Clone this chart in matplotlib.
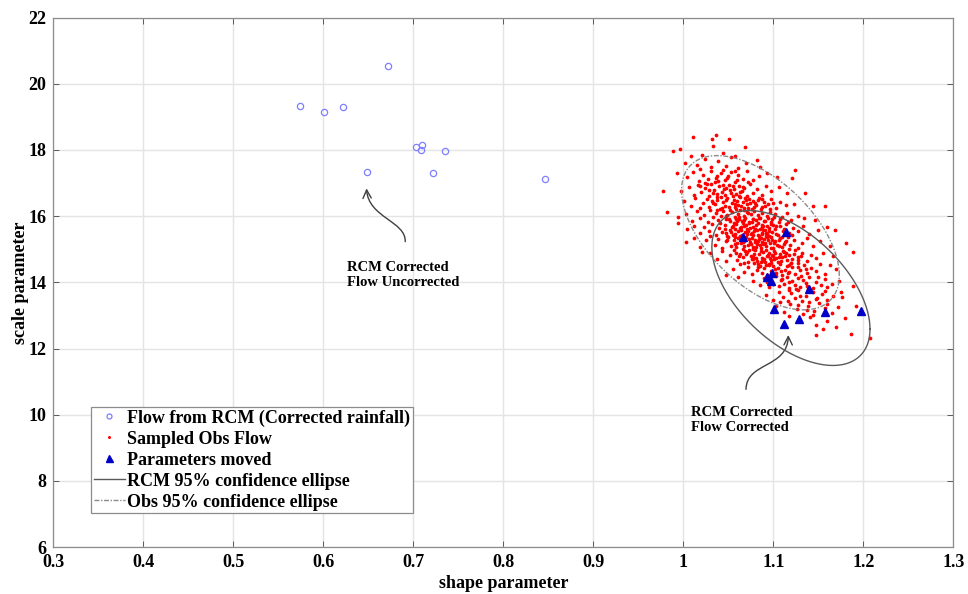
import numpy as np
import matplotlib
matplotlib.use("Agg")
import matplotlib.pyplot as plt
from matplotlib.path import Path
from matplotlib.patches import FancyArrowPatch

plt.rcParams["font.family"] = ["Liberation Serif", "DejaVu Serif"]
plt.rcParams["font.weight"] = "bold"

# flow parameters from RCM with corrected rainfall (shape, scale)
rcm_shape = [0.574, 0.601, 0.622, 0.672, 0.703, 0.710, 0.709, 0.735, 0.649, 0.722, 0.846]
rcm_scale = [19.33, 19.15, 19.30, 20.54, 18.08, 18.16, 17.99, 17.97, 17.34, 17.31, 17.11]

# parameters moved (corrected flow)
moved_shape = [1.066, 1.114, 1.093, 1.099, 1.097, 1.140, 1.101, 1.112, 1.129, 1.158, 1.197]
moved_scale = [15.38, 15.53, 14.15, 14.27, 14.03, 13.79, 13.19, 12.75, 12.90, 13.11, 13.14]

obs_flow = [
  (1.011,18.40),(1.036,18.46),(1.032,18.33),(1.051,18.34),
  (0.989,17.97),(0.996,18.03),(1.069,18.10),(1.021,17.86),(1.044,17.92),(1.008,17.83),(1.058,17.81),(1.033,18.12),
  (1.082,17.71),(1.085,17.50),(1.002,17.62),(1.015,17.55),(1.024,17.74),(1.031,17.48),(1.039,17.66),(1.047,17.52),
  (1.053,17.78),(1.061,17.45),(1.070,17.60),(1.019,17.42),(1.044,17.41),(1.124,17.40),
  (0.993,17.30),(1.004,17.18),(1.011,17.35),(1.017,17.06),(1.022,17.24),(1.027,17.12),(1.031,17.37),(1.035,17.02),
  (1.038,17.21),(1.042,17.30),(1.046,17.09),(1.049,17.16),(1.053,17.33),(1.057,17.04),(1.061,17.25),(1.066,17.13),
  (1.071,17.36),(1.077,17.08),(1.084,17.22),(1.093,17.31),(1.104,17.19),(1.121,17.14),(1.024,17.01),(1.058,17.38),
  (1.026,16.98),(1.033,16.70),(1.039,17.05),(1.045,16.82),(1.050,17.20),(1.055,16.92),(1.060,17.10),(1.066,16.88),
  (1.072,17.02),(1.036,17.15),(1.044,16.95),(1.029,16.80),(1.063,16.72),(1.052,16.78),(1.019,16.90),
  (0.997,16.77),(1.006,16.88),(1.012,16.65),(1.016,16.93),(1.020,16.72),(1.024,16.84),(1.028,16.61),(1.031,16.97),
  (1.034,16.79),(1.037,16.68),(1.040,16.90),(1.043,16.74),(1.046,16.63),(1.048,16.86),(1.051,16.95),(1.053,16.70),
  (1.056,16.81),(1.059,16.66),(1.062,16.92),(1.065,16.75),(1.068,16.85),(1.071,16.62),(1.074,16.98),(1.078,16.71),
  (1.082,16.83),(1.087,16.64),(1.092,16.91),(1.098,16.76),(1.106,16.87),(1.115,16.69),(1.135,16.71),(1.062,16.60),
  (0.977,16.76),
  (1.001,16.45),(1.008,16.32),(1.013,16.56),(1.018,16.24),(1.022,16.41),(1.026,16.52),(1.029,16.29),(1.032,16.47),
  (1.035,16.36),(1.038,16.58),(1.041,16.22),(1.044,16.43),(1.046,16.31),(1.049,16.54),(1.051,16.27),(1.054,16.39),
  (1.056,16.49),(1.059,16.21),(1.061,16.35),(1.063,16.57),(1.066,16.44),(1.068,16.26),(1.071,16.38),(1.073,16.51),
  (1.076,16.23),(1.078,16.46),(1.081,16.33),(1.084,16.55),(1.087,16.28),(1.090,16.42),(1.094,16.36),(1.098,16.53),
  (1.103,16.25),(1.108,16.44),(1.114,16.34),(1.123,16.36),(1.144,16.31),(1.158,16.31),(1.042,16.59),(1.057,16.28),
  (1.070,16.48),(1.086,16.21),
  (1.033,16.40),(1.047,16.50),(1.052,16.18),(1.060,16.45),(1.064,16.30),(1.069,16.56),(1.074,16.41),(1.079,16.27),
  (1.083,16.48),(1.091,16.31),(1.096,16.22),(1.043,16.26),(1.055,16.60),(1.067,16.20),(1.080,16.39),(1.088,16.52),
  (1.100,16.40),(1.058,16.36),(1.072,16.25),(1.037,16.49),
  (0.982,16.12),(0.994,15.98),(1.003,16.08),(1.010,15.86),(1.015,16.15),(1.019,15.94),(1.023,16.04),(1.027,15.83),
  (1.030,16.18),(1.033,15.97),(1.036,16.09),(1.039,15.88),(1.042,16.01),(1.044,16.16),(1.047,15.92),(1.049,16.05),
  (1.052,15.84),(1.054,16.12),(1.057,15.99),(1.059,15.90),(1.061,16.07),(1.063,16.19),(1.065,15.86),(1.067,16.02),
  (1.069,15.95),(1.071,16.14),(1.073,15.81),(1.075,16.06),(1.077,15.93),(1.079,16.17),(1.081,15.88),(1.083,16.03),
  (1.085,15.96),(1.088,16.11),(1.090,15.85),(1.093,16.00),(1.096,16.13),(1.099,15.91),(1.102,16.06),(1.106,15.83),
  (1.110,15.98),(1.115,16.10),(1.120,15.89),(1.127,16.02),(1.134,15.94),(1.146,15.87),(1.056,15.80),(1.038,16.20),
  (1.072,16.09),(1.094,15.94),(1.062,15.99),(1.048,16.00),
  (1.041,15.80),(1.046,15.60),(1.051,15.91),(1.055,15.70),(1.060,15.85),(1.064,15.66),(1.068,15.89),(1.072,15.55),
  (1.076,15.83),(1.080,15.62),(1.084,15.95),(1.087,15.73),(1.091,15.86),(1.095,15.56),(1.098,15.82),(1.103,15.69),
  (1.107,15.91),(1.112,15.62),(1.066,15.78),(1.078,15.90),(1.089,15.58),(1.053,15.52),(1.062,15.93),(1.074,15.64),
  (1.083,15.80),(1.101,15.97),(1.116,15.83),(1.093,15.70),
  (0.994,15.79),(1.004,15.62),(1.012,15.71),(1.018,15.48),(1.023,15.66),(1.028,15.55),(1.032,15.76),(1.036,15.44),
  (1.040,15.63),(1.043,15.52),(1.046,15.73),(1.049,15.41),(1.052,15.58),(1.054,15.68),(1.057,15.47),(1.059,15.77),
  (1.061,15.56),(1.063,15.64),(1.065,15.43),(1.067,15.71),(1.069,15.51),(1.071,15.60),(1.073,15.78),(1.075,15.45),
  (1.077,15.67),(1.079,15.54),(1.081,15.74),(1.083,15.42),(1.085,15.61),(1.087,15.50),(1.089,15.70),(1.091,15.57),
  (1.093,15.46),(1.095,15.65),(1.097,15.76),(1.099,15.53),(1.102,15.62),(1.105,15.44),(1.108,15.69),(1.111,15.56),
  (1.114,15.75),(1.118,15.48),(1.122,15.63),(1.127,15.54),(1.133,15.71),(1.140,15.47),(1.150,15.58),(1.169,15.57),
  (1.160,15.66),(1.064,15.58),(1.076,15.49),(1.088,15.66),(1.058,15.62),(1.070,15.72),(1.092,15.41),(1.100,15.74),
  (1.048,15.50),(1.082,15.57),
  (1.049,15.28),(1.055,15.44),(1.060,15.20),(1.063,15.40),(1.067,15.09),(1.071,15.47),(1.075,15.16),(1.078,15.42),
  (1.081,15.06),(1.084,15.31),(1.087,15.46),(1.089,15.15),(1.093,15.36),(1.097,15.03),(1.099,15.28),(1.103,15.45),
  (1.106,15.11),(1.110,15.38),(1.114,15.26),(1.121,15.44),(1.068,15.33),(1.080,15.22),(1.092,15.49),(1.101,15.18),
  (1.077,15.01),(1.058,15.36),(1.112,15.16),(1.086,15.35),
  (1.003,15.22),(1.012,15.35),(1.019,15.08),(1.025,15.27),(1.030,15.39),(1.035,15.14),(1.039,15.31),(1.043,15.03),
  (1.047,15.24),(1.050,15.37),(1.053,15.11),(1.056,15.29),(1.059,15.06),(1.061,15.33),(1.064,15.18),(1.066,15.02),
  (1.068,15.26),(1.070,15.38),(1.072,15.13),(1.074,15.21),(1.076,15.35),(1.078,15.07),(1.080,15.28),(1.082,15.16),
  (1.084,15.39),(1.086,15.04),(1.088,15.23),(1.090,15.32),(1.092,15.10),(1.094,15.27),(1.096,15.19),(1.098,15.36),
  (1.100,15.05),(1.102,15.25),(1.104,15.14),(1.107,15.33),(1.110,15.08),(1.113,15.22),(1.116,15.37),(1.119,15.12),
  (1.123,15.28),(1.127,15.03),(1.132,15.19),(1.137,15.34),(1.144,15.09),(1.152,15.24),(1.163,15.11),(1.181,15.18),
  (1.073,15.30),(1.085,15.12),(1.095,15.40),(1.066,15.22),(1.079,15.01),(1.091,15.18),(1.106,15.29),(1.058,15.15),
  (1.117,15.00),(1.083,15.25),
  (1.062,14.80),(1.067,14.60),(1.071,14.92),(1.076,14.70),(1.079,14.86),(1.083,14.55),(1.086,14.95),(1.090,14.72),
  (1.094,14.84),(1.098,14.58),(1.102,14.90),(1.106,14.77),(1.109,14.66),(1.114,14.88),(1.118,14.54),(1.123,14.85),
  (1.127,14.69),(1.088,14.64),(1.100,14.80),(1.111,14.96),(1.081,14.75),(1.095,14.52),(1.131,14.79),(1.073,14.98),
  (1.021,14.91),(1.030,14.88),(1.037,14.72),(1.043,14.95),(1.048,14.64),(1.052,14.83),(1.056,14.99),(1.060,14.69),
  (1.063,14.86),(1.066,14.77),(1.069,14.94),(1.072,14.62),(1.075,14.81),(1.077,14.71),(1.080,14.97),(1.082,14.66),
  (1.084,14.85),(1.087,14.74),(1.089,14.92),(1.091,14.61),(1.093,14.79),(1.095,14.89),(1.097,14.68),(1.099,14.84),
  (1.101,14.96),(1.103,14.73),(1.105,14.63),(1.107,14.87),(1.110,14.78),(1.112,14.93),(1.115,14.67),(1.118,14.82),
  (1.121,14.71),(1.124,14.98),(1.128,14.76),(1.132,14.88),(1.137,14.65),(1.142,14.83),(1.148,14.74),(1.155,14.90),
  (1.166,14.81),(1.189,14.91),(1.078,14.78),(1.092,14.98),(1.101,14.70),(1.086,14.62),(1.113,14.80),(1.070,14.85),
  (1.096,14.75),(1.120,14.60),(1.059,14.90),
  (1.047,14.22),(1.061,14.17),(1.055,14.41),(1.063,14.55),(1.068,14.31),(1.072,14.47),(1.076,14.24),(1.079,14.58),
  (1.082,14.36),(1.085,14.51),(1.088,14.27),(1.090,14.44),(1.093,14.21),(1.095,14.57),(1.098,14.34),(1.100,14.49),
  (1.103,14.29),(1.105,14.42),(1.108,14.55),(1.110,14.23),(1.113,14.38),(1.115,14.50),(1.118,14.32),(1.121,14.46),
  (1.124,14.25),(1.127,14.59),(1.130,14.37),(1.134,14.52),(1.138,14.28),(1.142,14.43),(1.147,14.35),(1.152,14.56),
  (1.158,14.26),(1.163,14.53),(1.170,14.40),(1.116,14.27),(1.102,14.39),(1.128,14.45),(1.092,14.53),(1.109,14.33),
  (1.136,14.40),(1.120,14.58),(1.083,14.45),
  (1.078,14.05),(1.085,13.92),(1.090,14.14),(1.095,13.85),(1.099,14.01),(1.103,14.18),(1.106,13.89),(1.109,14.08),
  (1.112,13.96),(1.115,14.16),(1.118,13.82),(1.121,14.03),(1.124,13.93),(1.127,14.12),(1.130,13.87),(1.133,14.06),
  (1.136,13.98),(1.140,14.15),(1.144,13.84),(1.148,14.02),(1.153,13.91),(1.158,14.10),(1.165,13.96),(1.173,14.04),
  (1.189,13.90),(1.125,13.80),(1.110,14.10),(1.138,13.90),(1.100,13.95),(1.150,14.16),(1.117,14.00),(1.131,14.20),
  (1.160,13.86),(1.093,14.02),
  (1.092,13.62),(1.100,13.48),(1.106,13.71),(1.111,13.55),(1.116,13.43),(1.120,13.67),(1.124,13.52),(1.128,13.76),
  (1.132,13.45),(1.136,13.60),(1.140,13.41),(1.144,13.70),(1.149,13.53),(1.154,13.64),(1.160,13.47),(1.166,13.58),
  (1.175,13.72),(1.176,13.57),(1.130,13.58),(1.118,13.78),(1.147,13.50),(1.108,13.42),(1.139,13.79),(1.157,13.75),
  (1.103,13.30),(1.112,13.12),(1.119,13.36),(1.126,13.20),(1.133,13.05),(1.139,13.28),(1.145,13.15),(1.151,13.38),
  (1.158,13.22),(1.165,13.08),(1.192,13.30),(1.172,13.25),(1.144,13.02),(1.128,13.33),(1.160,13.35),(1.137,13.17),
  (1.148,12.71),(1.180,12.92),(1.129,12.88),(1.160,12.82),(1.141,12.95),(1.170,12.64),(1.117,12.97),(1.155,12.60),
  (1.207,12.31),(1.186,12.45),(1.147,12.40),
]
obs_shape = [p[0] for p in obs_flow]
obs_scale = [p[1] for p in obs_flow]

# 95% confidence ellipses: centre, std of shape, std of scale, correlation
rcm_ell = dict(cx=1.1196, cy=13.83, sx=0.0359, sy=0.956, rho=-0.53)
obs_ell = dict(cx=1.0857, cy=15.50, sx=0.0358, sy=0.952, rho=-0.55)


def ellipse(e, n=300):
  k = np.sqrt(5.991)
  cov = np.array([[e["sx"]**2, e["rho"]*e["sx"]*e["sy"]],
                  [e["rho"]*e["sx"]*e["sy"], e["sy"]**2]])
  L = np.linalg.cholesky(cov)
  t = np.linspace(0, 2*np.pi, n)
  pts = L @ np.vstack([np.cos(t), np.sin(t)]) * k
  return e["cx"] + pts[0], e["cy"] + pts[1]


fig = plt.figure(figsize=(9.68, 5.94), dpi=100)
ax = fig.add_axes([0.0551, 0.0788, 0.9297, 0.8916])

ax.plot(rcm_shape, rcm_scale, linestyle="none", marker="o", markersize=4.5,
        markerfacecolor="none", markeredgecolor="#7f7fff", markeredgewidth=0.9,
        label="Flow from RCM (Corrected rainfall)")
ax.plot(obs_shape, obs_scale, linestyle="none", marker="o", markersize=2.7,
        markerfacecolor="#ff0000", markeredgecolor="none", label="Sampled Obs Flow")
ax.plot(moved_shape, moved_scale, linestyle="none", marker="^", markersize=6.3,
        markerfacecolor="#0000c8", markeredgecolor="#0000c8", label="Parameters moved")

ex, ey = ellipse(rcm_ell)
ax.plot(ex, ey, color="#5a5a5a", linewidth=1.0, label="RCM 95% confidence ellipse")
ex, ey = ellipse(obs_ell)
ax.plot(ex, ey, color="#8a8a8a", linewidth=1.0, dashes=(3.5, 1.2, 1, 1.2),
        label="Obs 95% confidence ellipse")


def curved_arrow(p0, p1, p2, p3):
  path = Path([p0, p1, p2, p3], [Path.MOVETO, Path.CURVE4, Path.CURVE4, Path.CURVE4])
  arr = FancyArrowPatch(path=path, arrowstyle="->,head_length=6,head_width=3",
                        color="#404040", linewidth=1.0)
  ax.add_patch(arr)


curved_arrow((0.691, 15.23), (0.692, 15.85), (0.650, 15.95), (0.648, 16.84))
curved_arrow((1.0697, 10.77), (1.070, 11.60), (1.116, 11.40), (1.1167, 12.41))

ax.text(0.626, 14.22, "RCM Corrected\nFlow Uncorrected", fontsize=10.5,
        fontweight="bold", ha="left", va="center", linespacing=1.25)
ax.text(1.009, 9.85, "RCM Corrected\nFlow Corrected", fontsize=10.5,
        fontweight="bold", ha="left", va="center", linespacing=1.25)

ax.set_xlim(0.3, 1.3)
ax.set_ylim(6, 22)
ax.set_xticks(np.arange(0.3, 1.31, 0.1))
ax.set_xticklabels(["0.3", "0.4", "0.5", "0.6", "0.7", "0.8", "0.9", "1", "1.1", "1.2", "1.3"])
ax.set_yticks(np.arange(6, 23, 2))
ax.tick_params(direction="in", length=4, width=0.6, color="#444444",
               labelsize=13, top=True, right=True, pad=5)
for lab in ax.get_xticklabels() + ax.get_yticklabels():
  lab.set_fontweight("bold")
ax.grid(True, color="#e4e4e4", linewidth=1.0)
ax.set_axisbelow(True)
for s in ax.spines.values():
  s.set_color("#8c8c8c")
  s.set_linewidth(0.9)

ax.set_xlabel("shape parameter", fontsize=13, fontweight="bold", labelpad=3)
ax.set_ylabel("scale parameter", fontsize=13, fontweight="bold")
ax.yaxis.set_label_coords(-0.027, 0.5)

leg = ax.legend(loc="lower left", bbox_to_anchor=(0.042, 0.064), fontsize=13,
                frameon=True, fancybox=False, edgecolor="#8c8c8c", framealpha=1,
                handlelength=1.7, handletextpad=0.15, borderpad=0.15,
                labelspacing=0.22, borderaxespad=0, markerscale=0.8)
leg.get_frame().set_linewidth(0.9)
for t in leg.get_texts():
  t.set_fontweight("bold")

fig.savefig("out.png", dpi=100)
